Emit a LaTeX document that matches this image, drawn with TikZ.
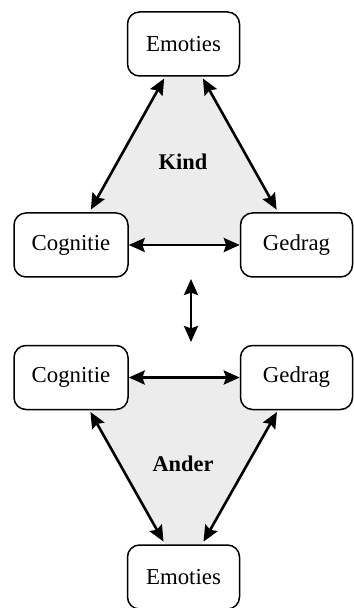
\documentclass[tikz,border=0pt]{standalone}
\usepackage{fontspec}
\setmainfont{Liberation Serif}
\usetikzlibrary{arrows.meta}
\definecolor{trifill}{RGB}{236,236,236}
\tikzset{
  box/.style={draw=black, line width=0.75pt, fill=white, rounded corners=6pt,
    minimum width=56pt, minimum height=32pt, inner sep=0pt,
    font=\fontsize{11.4}{13}\selectfont},
  link/.style={line width=1.3pt,
    {Stealth[length=8pt,width=7pt,inset=1.2pt]}-{Stealth[length=8pt,width=7pt,inset=1.2pt]}},
  slant/.style={link, shorten <=1pt, shorten >=1.5pt},
  tag/.style={font=\fontsize{11.2}{13}\selectfont\bfseries}
}
\begin{document}
\begin{tikzpicture}[x=0.5pt, y=-0.5pt]
  \useasboundingbox (0,0) rectangle (353,608);

  % upper triad: Kind
  \coordinate (e1c) at (183.5,44);
  \coordinate (c1c) at (71,245);
  \coordinate (g1c) at (296.5,245);
  \fill[trifill] (e1c) -- (c1c) -- (g1c) -- cycle;
  \node[box] (e1) at (e1c) {Emoties};
  \node[box, minimum width=57pt] (c1) at (c1c) {Cognitie};
  \node[box] (g1) at (g1c) {Gedrag};
  \node[tag] (kind) at (183,162) {Kind};
  \draw[slant] (e1) -- (c1);
  \draw[slant] (e1) -- (g1);
  \draw[link] (c1) -- (g1);

  % link between the two triads
  \coordinate (vt) at (191,279);
  \coordinate (vb) at (191,342);
  \draw[link] (vt) -- (vb);

  % lower triad: Ander
  \coordinate (c2c) at (71,377.5);
  \coordinate (g2c) at (296.5,377.5);
  \coordinate (e2c) at (183.5,577);
  \fill[trifill] (e2c) -- (c2c) -- (g2c) -- cycle;
  \node[box, minimum width=57pt] (c2) at (c2c) {Cognitie};
  \node[box] (g2) at (g2c) {Gedrag};
  \node[box] (e2) at (e2c) {Emoties};
  \node[tag] (ander) at (183,464) {Ander};
  \draw[slant] (c2) -- (e2);
  \draw[slant] (g2) -- (e2);
  \draw[link] (c2) -- (g2);
\end{tikzpicture}
\end{document}
